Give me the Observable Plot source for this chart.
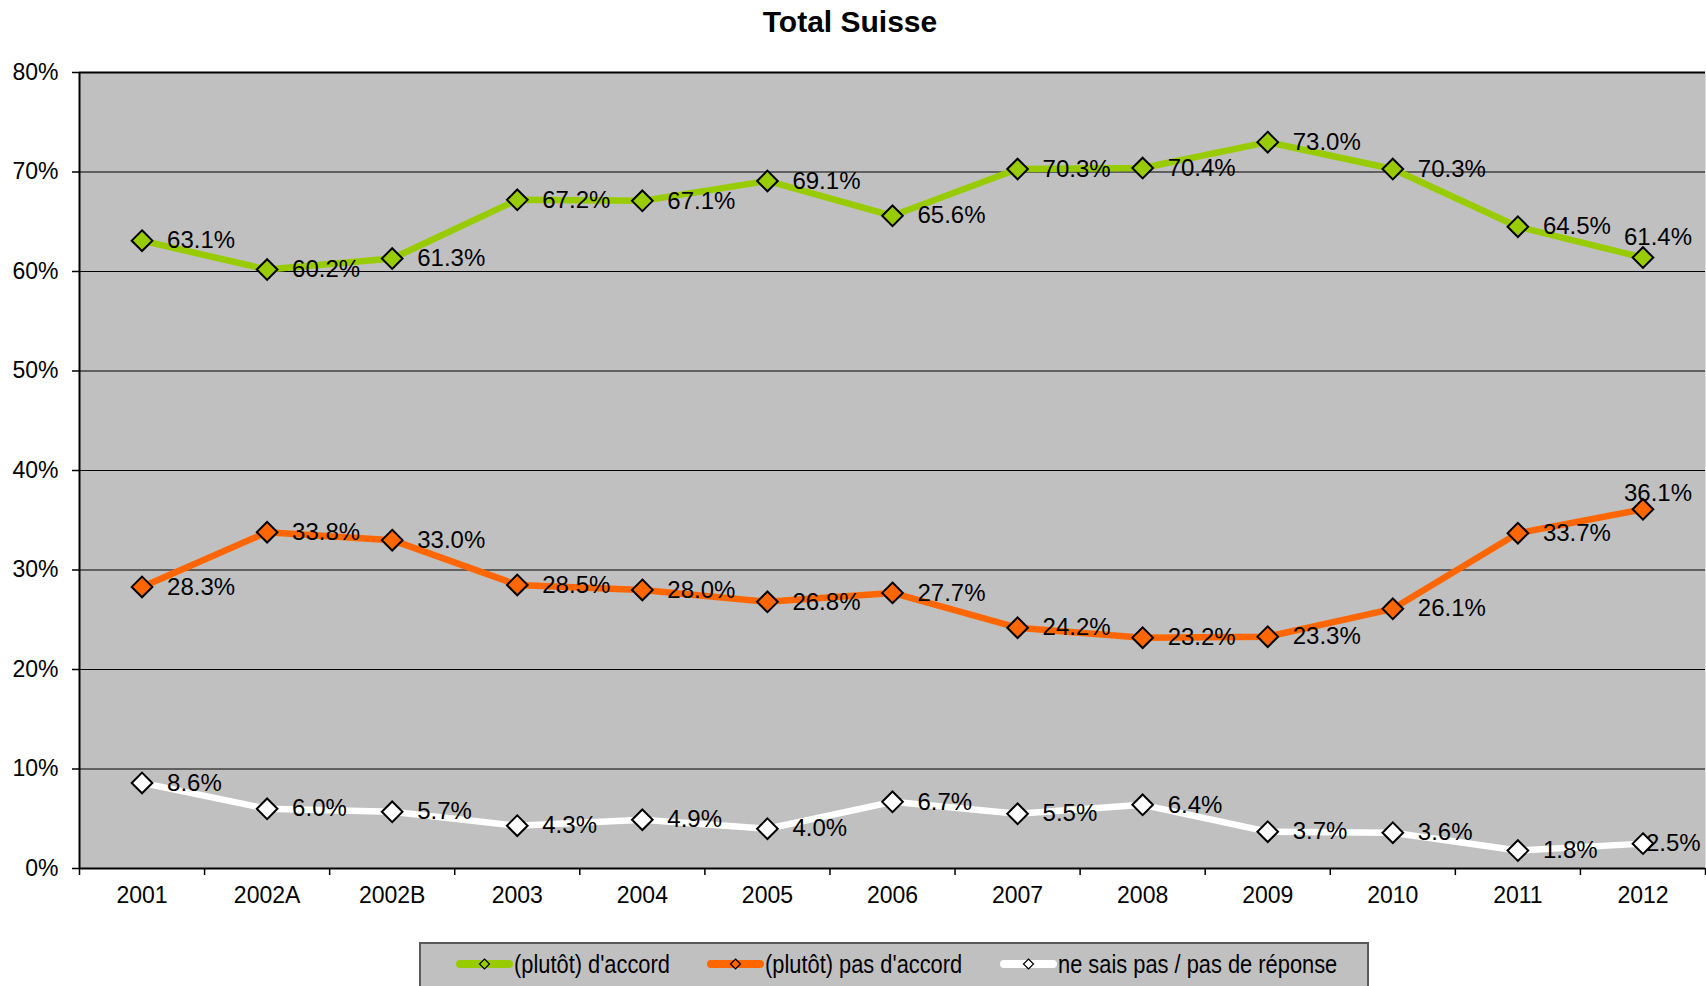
<!DOCTYPE html>
<html>
<head>
<meta charset="utf-8">
<script src="https://cdn.jsdelivr.net/npm/d3@7"></script>
<script src="https://cdn.jsdelivr.net/npm/@observablehq/plot@0.6"></script>
<style>
  html, body { margin: 0; padding: 0; background: #fff; }
  #wrap { position: relative; width: 1706px; height: 986px; overflow: hidden; font-family: "Liberation Sans", Arial, sans-serif; }
  #title { position: absolute; left: 0; top: 6px; width: 1700px; text-align: center; font-weight: bold; font-size: 30px; line-height: 32px; color: #000; }
  #chart { position: absolute; left: 0; top: 0; }
  #legend { position: absolute; left: 419px; top: 942px; width: 950px; height: 70px; background: #c0c0c0; border: 2px solid #5a5a5a; box-sizing: border-box; }
  .item { position: absolute; top: 6px; height: 28px; display: flex; align-items: center; }
  .item svg { display: block; }
  .item span { display: inline-block; font-size: 26px; line-height: 28px; transform: scaleX(0.84); transform-origin: left center; white-space: nowrap; color: #000; }
</style>
</head>
<body>
<div id="wrap">
  <div id="chart"></div>
  <div id="title"></div>
  <div id="legend"></div>
</div>
<script>
// ---- data ----
const titleText = "Total Suisse";
const categories = ["2001", "2002A", "2002B", "2003", "2004", "2005", "2006", "2007", "2008", "2009", "2010", "2011", "2012"];
const accord = [63.1, 60.2, 61.3, 67.2, 67.1, 69.1, 65.6, 70.3, 70.4, 73.0, 70.3, 64.5, 61.4];
const pasAccord = [28.3, 33.8, 33.0, 28.5, 28.0, 26.8, 27.7, 24.2, 23.2, 23.3, 26.1, 33.7, 36.1];
const nesaisPas = [8.6, 6.0, 5.7, 4.3, 4.9, 4.0, 6.7, 5.5, 6.4, 3.7, 3.6, 1.8, 2.5];
const seriesNames = ["(plutôt) d'accord", "(plutôt) pas d'accord", "ne sais pas / pas de réponse"];
const yTicks = [0, 10, 20, 30, 40, 50, 60, 70, 80];

const colors = ["#99cc00", "#ff6600", "#ffffff"];
const seriesValues = [accord, pasAccord, nesaisPas];
const lastDy = [-20, -16, 0];
const lastAbove = [true, true, false];

document.getElementById("title").textContent = titleText;

const n = categories.length;
const xc = (d, i) => i + 0.5;
const fmt = d => d.toFixed(1) + "%";

const marks = [
  Plot.frame({fill: "#c0c0c0", stroke: null}),
  Plot.ruleY(yTicks.filter(v => v > 0 && v < 80), {stroke: "#000", strokeWidth: 1}),
  Plot.ruleY([80], {stroke: "#000", strokeWidth: 2}),
  Plot.ruleY([0], {stroke: "#000", strokeWidth: 2}),
  Plot.ruleX([0], {stroke: "#000", strokeWidth: 2}),
  Plot.axisY({ticks: yTicks, tickFormat: d => d + "%", tickSize: 7, tickPadding: 14, fontSize: 23, label: null, stroke: "#000", strokeWidth: 1.5}),
  Plot.axisX({ticks: d3.range(0, n + 1), tickFormat: () => "", tickSize: 7, label: null, stroke: "#000", strokeWidth: 1.5}),
  Plot.axisX({ticks: categories.map((c, i) => i + 0.5), tickFormat: v => categories[Math.floor(v)], tickSize: 0, tickPadding: 18, fontSize: 23, label: null})
];

seriesValues.forEach((vals, s) => {
  marks.push(Plot.line(vals, {x: xc, y: d => d, stroke: colors[s], strokeWidth: 6.5, strokeLinejoin: "round", strokeLinecap: "round"}));
});
seriesValues.forEach((vals, s) => {
  marks.push(Plot.dot(vals, {x: xc, y: d => d, symbol: "diamond2", r: 9.3, fill: colors[s], stroke: "#000", strokeWidth: 2}));
});
seriesValues.forEach((vals, s) => {
  const idx = vals.map((v, i) => i);
  const normal = idx.slice(0, n - 1);
  marks.push(Plot.text(normal, {x: i => i + 0.5, y: i => vals[i], text: i => fmt(vals[i]), dx: 25, textAnchor: "start", fontSize: 24, fill: "#000"}));
  if (lastAbove[s]) {
    marks.push(Plot.text([n - 1], {x: i => i + 0.5, y: i => vals[i], text: i => fmt(vals[i]), dx: 15, dy: lastDy[s], textAnchor: "middle", fontSize: 24, fill: "#000"}));
  } else {
    marks.push(Plot.text([n - 1], {x: i => i + 0.5, y: i => vals[i], text: i => fmt(vals[i]), dx: 3, textAnchor: "start", fontSize: 24, fill: "#000"}));
  }
});

const chart = Plot.plot({
  width: 1706,
  height: 986,
  marginTop: 72,
  marginLeft: 79,
  marginRight: 1,
  marginBottom: 118,
  x: {type: "linear", domain: [0, n]},
  y: {domain: [0, 80]},
  style: {fontFamily: "'Liberation Sans', Arial, sans-serif", background: "transparent", color: "#000", overflow: "visible"},
  marks
});
document.getElementById("chart").appendChild(chart);

// ---- legend ----
const legend = document.getElementById("legend");
const itemLeft = [34, 285, 578];
seriesNames.forEach((name, s) => {
  const item = document.createElement("div");
  item.className = "item";
  item.style.left = itemLeft[s] + "px";
  const svgNS = "http://www.w3.org/2000/svg";
  const svg = document.createElementNS(svgNS, "svg");
  svg.setAttribute("width", 59);
  svg.setAttribute("height", 16);
  const line = document.createElementNS(svgNS, "line");
  line.setAttribute("x1", 5); line.setAttribute("x2", 54);
  line.setAttribute("y1", 8); line.setAttribute("y2", 8);
  line.setAttribute("stroke", colors[s]); line.setAttribute("stroke-width", 8);
  line.setAttribute("stroke-linecap", "round");
  svg.appendChild(line);
  const dia = document.createElementNS(svgNS, "path");
  dia.setAttribute("d", "M29.5,3 L34.5,8 L29.5,13 L24.5,8 Z");
  dia.setAttribute("fill", colors[s]); dia.setAttribute("stroke", "#000"); dia.setAttribute("stroke-width", 1.2);
  svg.appendChild(dia);
  item.appendChild(svg);
  const span = document.createElement("span");
  span.textContent = name;
  item.appendChild(span);
  legend.appendChild(item);
});
</script>
</body>
</html>
